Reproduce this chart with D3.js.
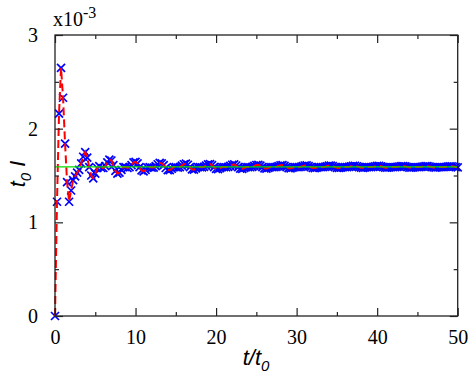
<!DOCTYPE html>
<html><head><meta charset="utf-8">
<script src="https://cdn.jsdelivr.net/npm/d3@7"></script>
<style>body{margin:0;background:#fff}svg{display:block}</style>
</head><body>
<svg id="c" width="471" height="377" font-family="Liberation Serif"></svg>
<script>
// time, in units of t0
const times = [
0,0.25,0.5,0.75, 1,1.25,1.5,1.75, 2,2.25,2.5,2.75, 3,3.25,3.5,3.75, 4,4.25,4.5,4.75,
5,5.25,5.5,5.75, 6,6.25,6.5,6.75, 7,7.25,7.5,7.75, 8,8.25,8.5,8.75, 9,9.25,9.5,9.75,
10,10.25,10.5,10.75, 11,11.25,11.5,11.75, 12,12.25,12.5,12.75, 13,13.25,13.5,13.75, 14,14.25,14.5,14.75,
15,15.25,15.5,15.75, 16,16.25,16.5,16.75, 17,17.25,17.5,17.75, 18,18.25,18.5,18.75, 19,19.25,19.5,19.75,
20,20.25,20.5,20.75, 21,21.25,21.5,21.75, 22,22.25,22.5,22.75, 23,23.25,23.5,23.75, 24,24.25,24.5,24.75,
25,25.25,25.5,25.75, 26,26.25,26.5,26.75, 27,27.25,27.5,27.75, 28,28.25,28.5,28.75, 29,29.25,29.5,29.75,
30,30.25,30.5,30.75, 31,31.25,31.5,31.75, 32,32.25,32.5,32.75, 33,33.25,33.5,33.75, 34,34.25,34.5,34.75,
35,35.25,35.5,35.75, 36,36.25,36.5,36.75, 37,37.25,37.5,37.75, 38,38.25,38.5,38.75, 39,39.25,39.5,39.75,
40,40.25,40.5,40.75, 41,41.25,41.5,41.75, 42,42.25,42.5,42.75, 43,43.25,43.5,43.75, 44,44.25,44.5,44.75,
45,45.25,45.5,45.75, 46,46.25,46.5,46.75, 47,47.25,47.5,47.75, 48,48.25,48.5,48.75, 49,49.25,49.5,49.75,
50];
// t0*I, in units of 1e-3
const current = [
0,1.22,2.16,2.65, 2.33,1.84,1.43,1.22, 1.34,1.45,1.49,1.53, 1.56,1.63,1.70,1.75, 1.69,1.59,1.50,1.47,
1.52,1.58,1.60,1.58, 1.58,1.60,1.64,1.67, 1.66,1.61,1.55,1.52, 1.53,1.56,1.59,1.59, 1.58,1.59,1.61,1.64,
1.645,1.63,1.59,1.555, 1.545,1.56,1.585,1.59, 1.585,1.585,1.60,1.62, 1.635,1.63,1.61,1.58, 1.558,1.558,1.572,1.59,
1.59,1.585,1.59,1.605, 1.62,1.627,1.615,1.59, 1.566,1.562,1.575,1.59, 1.59,1.587,1.592,1.605, 1.618,1.622,1.61,1.59,
1.57,1.567,1.578,1.59, 1.59,1.588,1.592,1.603, 1.615,1.618,1.607,1.59, 1.573,1.571,1.58,1.59, 1.59,1.588,1.592,1.602,
1.612,1.614,1.605,1.59, 1.576,1.574,1.582,1.59, 1.59,1.589,1.593,1.601, 1.609,1.611,1.603,1.59, 1.578,1.577,1.583,1.59,
1.59,1.589,1.593,1.6, 1.607,1.608,1.601,1.59, 1.58,1.579,1.584,1.59, 1.59,1.589,1.592,1.599, 1.605,1.606,1.6,1.59,
1.582,1.581,1.585,1.59, 1.59,1.59,1.592,1.598, 1.603,1.604,1.599,1.59, 1.583,1.582,1.586,1.59, 1.59,1.59,1.592,1.597,
1.602,1.603,1.598,1.59, 1.584,1.583,1.587,1.59, 1.59,1.59,1.592,1.596, 1.601,1.601,1.597,1.59, 1.585,1.584,1.587,1.59,
1.59,1.59,1.592,1.596, 1.6,1.6,1.596,1.59, 1.586,1.585,1.588,1.59, 1.59,1.59,1.591,1.595, 1.599,1.599,1.596,1.59,
1.587];
const steadyValue = [1.592];
const xTicksMajor = [0,10,20,30,40,50];
const xTicksMinor = [5,15,25,35,45];
const yTicksMajor = [0,1,2,3];
const yTicksMinor = [0.5,1.5,2.5];
const xDomain = [0,50];
const yDomain = [0,3];

const SERIF = "Liberation Serif";
const SANS = "Liberation Sans";

const svg = d3.select("#c");
const L = 55, R = 457.7, T = 35, B = 316;
const x = d3.scaleLinear().domain(xDomain).range([L, R]);
const y = d3.scaleLinear().domain(yDomain).range([B, T]);
const data = times.map((t,i)=>({t, v: current[i]}));

// markers (blue crosses)
const s = 4;
svg.append("g").selectAll("path").data(data).join("path")
  .attr("d", d => `M${x(d.t)-s},${y(d.v)-s}L${x(d.t)+s},${y(d.v)+s}M${x(d.t)-s},${y(d.v)+s}L${x(d.t)+s},${y(d.v)-s}`)
  .attr("stroke", "#0000ff").attr("stroke-width", 1.7).attr("fill", "none");

// red dashed line
svg.append("path").datum(data)
  .attr("d", d3.line().x(d=>x(d.t)).y(d=>y(d.v)))
  .attr("fill","none").attr("stroke","#ff0000").attr("stroke-width",2)
  .attr("stroke-dasharray","8,4");

// green steady line
svg.append("g").selectAll("line").data(steadyValue).join("line")
  .attr("x1", x(xDomain[0])).attr("x2", x(xDomain[1]))
  .attr("y1", d=>y(d)).attr("y2", d=>y(d))
  .attr("stroke","#00dd00").attr("stroke-width",1.2);

// axes (ticks inward on all four sides)
function styleAxis(g){
  g.attr("font-family", SERIF).style("font-family", SERIF);
  g.select(".domain").remove();
  g.selectAll(".tick line").attr("stroke","#222").attr("stroke-width",1.2);
  g.selectAll(".tick text").attr("font-family", SERIF).style("font-family", SERIF)
    .attr("font-size", 20).attr("fill","#000");
}
const maj = 8, mnr = 4;
svg.append("g").attr("transform",`translate(0,${B})`)
  .call(d3.axisBottom(x).tickValues(xTicksMajor).tickSize(-maj).tickPadding(14).tickFormat(d3.format("d")))
  .call(styleAxis);
svg.append("g").attr("transform",`translate(0,${B})`)
  .call(d3.axisBottom(x).tickValues(xTicksMinor).tickSize(-mnr).tickFormat(""))
  .call(styleAxis);
svg.append("g").attr("transform",`translate(0,${T})`)
  .call(d3.axisTop(x).tickValues(xTicksMajor).tickSize(-maj).tickFormat(""))
  .call(styleAxis);
svg.append("g").attr("transform",`translate(0,${T})`)
  .call(d3.axisTop(x).tickValues(xTicksMinor).tickSize(-mnr).tickFormat(""))
  .call(styleAxis);
svg.append("g").attr("transform",`translate(${L},0)`)
  .call(d3.axisLeft(y).tickValues(yTicksMajor).tickSize(-maj).tickPadding(17).tickFormat(d3.format("d")))
  .call(styleAxis);
svg.append("g").attr("transform",`translate(${L},0)`)
  .call(d3.axisLeft(y).tickValues(yTicksMinor).tickSize(-mnr).tickFormat(""))
  .call(styleAxis);
svg.append("g").attr("transform",`translate(${R},0)`)
  .call(d3.axisRight(y).tickValues(yTicksMajor).tickSize(-maj).tickFormat(""))
  .call(styleAxis);
svg.append("g").attr("transform",`translate(${R},0)`)
  .call(d3.axisRight(y).tickValues(yTicksMinor).tickSize(-mnr).tickFormat(""))
  .call(styleAxis);

// frame
svg.append("rect").attr("x",L).attr("y",T).attr("width",R-L).attr("height",B-T)
  .attr("fill","none").attr("stroke","#222").attr("stroke-width",1.3);

// exponent label
const ex = svg.append("text").attr("font-family",SERIF).style("font-family",SERIF)
  .attr("x",53).attr("y",26).attr("font-size",20).attr("fill","#000");
ex.append("tspan").text("x10");
ex.append("tspan").attr("font-size",16).attr("dy",-8).text("-3");

// x title
const xt = svg.append("text").attr("font-family",SANS).style("font-family",SANS)
  .attr("x",256).attr("y",365).attr("text-anchor","middle")
  .attr("font-style","italic").attr("font-size",22).attr("fill","#000");
xt.append("tspan").text("t/t");
xt.append("tspan").attr("font-size",15).attr("dy",6).text("0");

// y title
const yt = svg.append("text").attr("font-family",SANS).style("font-family",SANS)
  .attr("transform","translate(25,174) rotate(-90)").attr("text-anchor","middle")
  .attr("font-style","italic").attr("font-size",22).attr("fill","#000");
yt.append("tspan").text("t");
yt.append("tspan").attr("font-size",15).attr("dy",6).text("0");
yt.append("tspan").attr("dy",-6).text(" I");
</script>
</body></html>
